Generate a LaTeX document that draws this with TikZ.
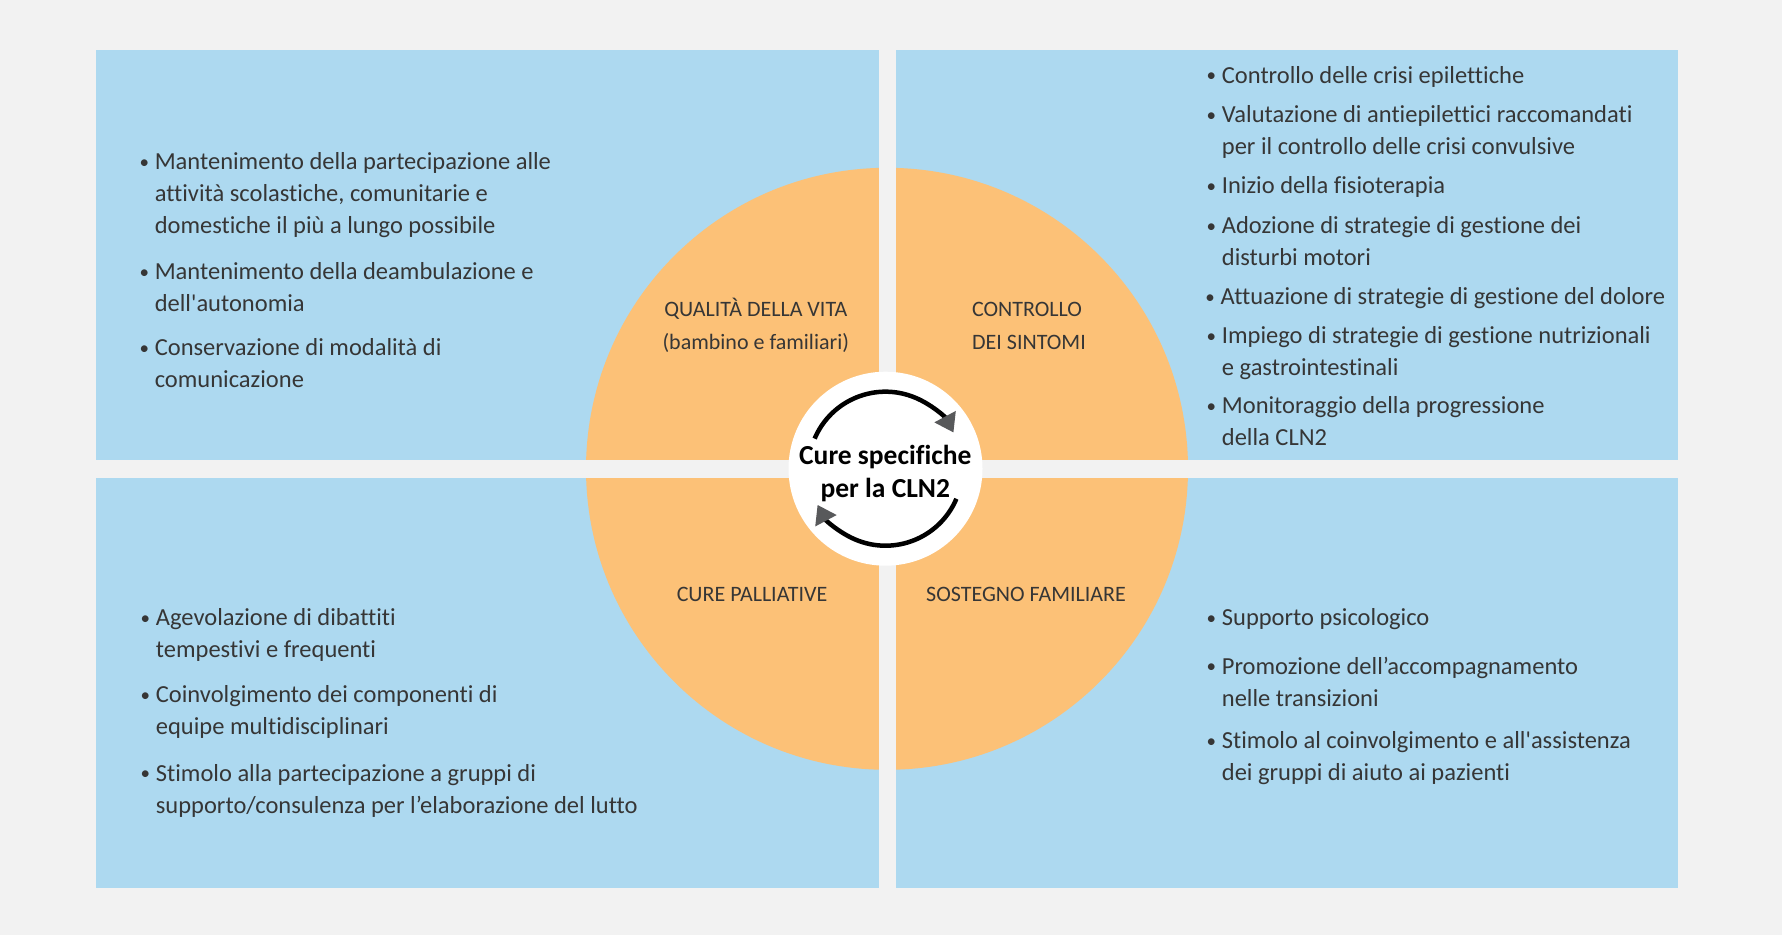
\documentclass[tikz,border=0pt]{standalone}
\usepackage{fontspec}
\setmainfont{Carlito}[Ligatures={NoCommon}]
\usetikzlibrary{arrows.meta}
\definecolor{paper}{HTML}{F2F2F2}
\definecolor{quad}{HTML}{ADD9F0}
\definecolor{ring}{HTML}{FCC177}
\definecolor{ink}{HTML}{363636}
\definecolor{loop}{HTML}{231F20}
\definecolor{loophead}{HTML}{58595B}
\newcommand\bul[1]{\begin{tabular}[t]{@{}p{16pt}@{}l@{}}\makebox[11pt][c]{\raisebox{1.5pt}{\fontsize{19}{19}\selectfont\textbullet}}&#1\end{tabular}}
\begin{document}
\begin{tikzpicture}[x=1pt,y=1pt,
    item/.style={anchor=base west,inner sep=0pt,text=ink,font=\fontsize{24.5}{32}\selectfont},
    lab/.style={anchor=base,inner sep=0pt,text=ink,font=\fontsize{22}{28}\selectfont},
    core/.style={anchor=base,inner sep=0pt,text=black,font=\fontsize{27.5}{33}\selectfont\bfseries},
    turn/.style={line width=4.5pt,loop,-{Triangle[length=18pt,width=23pt,color=loophead]}}]
  \fill[paper] (0,0) rectangle (1782,935);
  \fill[quad] (95.5,47) rectangle (1678,885);
  \fill[ring] (887,466.2) circle[radius=301];
  \fill[paper] (879,47) rectangle (896,885);
  \fill[paper] (95.5,457.3) rectangle (1678,475);
  \node[circle,fill=white,minimum size=194pt,inner sep=0pt] (hub) at (885.5,466.3) {};
  \node[core] (hub1) at (885.3,470.5) {Cure specifiche};
  \node[core] (hub2) at (885.3,437.3) {per la CLN2};
  \draw[turn] (hub.center) ++(157:77) arc[start angle=157,end angle=28,radius=77];
  \draw[turn] (hub.center) ++(-23:77) arc[start angle=-23,end angle=-152,radius=77];
  \node[lab] (qv) at (755.8,618.3) {QUALITÀ DELLA VITA};
  \node[lab] (qvb) at (755.8,585) {(bambino e familiari)};
  \node[lab] (cs) at (1027,618.3) {CONTROLLO};
  \node[lab] (csb) at (1029,585) {DEI SINTOMI};
  \node[lab] (cp) at (752,333.5) {CURE PALLIATIVE};
  \node[lab] (sf) at (1026,333.5) {SOSTEGNO FAMILIARE};
  \node[item] (q1) at (138.6,765) {\bul{Mantenimento della partecipazione alle\\ & attività scolastiche, comunitarie e\\ & domestiche il più a lungo possibile}};
  \node[item] (q2) at (138.6,655) {\bul{Mantenimento della deambulazione e\\ & dell\textquotesingle autonomia}};
  \node[item] (q3) at (138.6,579) {\bul{Conservazione di modalità di\\ & comunicazione}};
  \node[item] (c1) at (1205.7,851.7) {\bul{Controllo delle crisi epilettiche}};
  \node[item] (c2) at (1205.7,812.3) {\bul{Valutazione di antiepilettici raccomandati\\ & per il controllo delle crisi convulsive}};
  \node[item] (c3) at (1205.7,741) {\bul{Inizio della fisioterapia}};
  \node[item] (c4) at (1205.7,701.3) {\bul{Adozione di strategie di gestione dei\\ & disturbi motori}};
  \node[item] (c5) at (1204.5,630) {\bul{Attuazione di strategie di gestione del dolore}};
  \node[item] (c6) at (1205.7,591.3) {\bul{Impiego di strategie di gestione nutrizionali\\ & e gastrointestinali}};
  \node[item] (c7) at (1205.7,521) {\bul{Monitoraggio della progressione\\ & della CLN2}};
  \node[item] (p1) at (139.7,309) {\bul{Agevolazione di dibattiti\\ & tempestivi e frequenti}};
  \node[item] (p2) at (139.7,232.3) {\bul{Coinvolgimento dei componenti di\\ & equipe multidisciplinari}};
  \node[item] (p3) at (139.7,154) {\bul{Stimolo alla partecipazione a gruppi di\\ & supporto/consulenza per l’elaborazione del lutto}};
  \node[item] (s1) at (1205.7,309) {\bul{Supporto psicologico}};
  \node[item] (s2) at (1205.7,261) {\bul{Promozione dell’accompagnamento\\ & nelle transizioni}};
  \node[item] (s3) at (1205.7,186.3) {\bul{Stimolo al coinvolgimento e all\textquotesingle assistenza\\ & dei gruppi di aiuto ai pazienti}};
\end{tikzpicture}
\end{document}
